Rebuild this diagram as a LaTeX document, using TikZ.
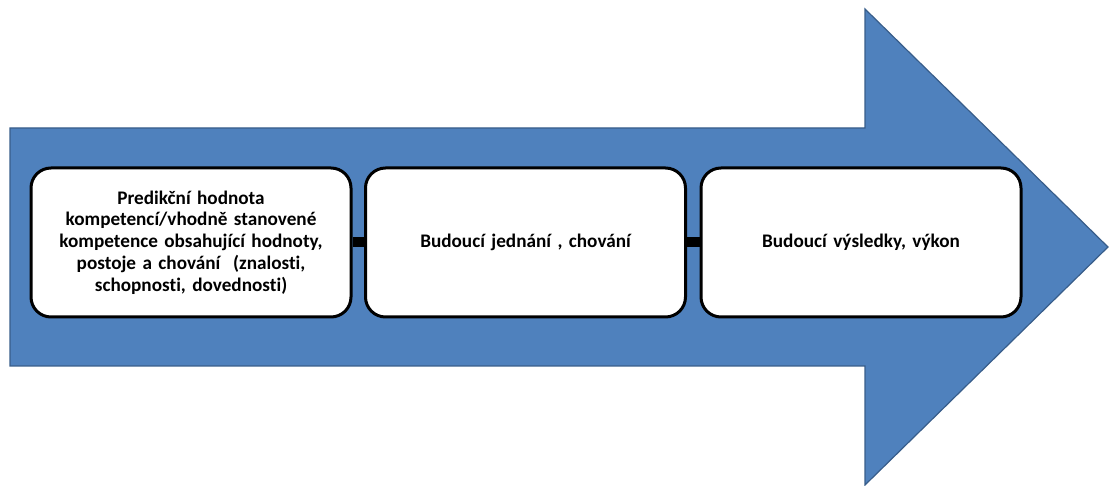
\documentclass[tikz,border=0pt]{standalone}
\usepackage{fontspec}
\setmainfont[Ligatures={NoCommon}]{Carlito}
\begin{document}
\begin{tikzpicture}[x=1pt,y=-1pt,
  arrowfill/.style={fill={rgb,255:red,79;green,129;blue,189}, draw={rgb,255:red,56;green,93;blue,138}, line width=1.2pt, line join=miter},
  stagebox/.style={draw=black, fill=white, line width=3pt, rounded corners=20pt,
    minimum width=320pt, minimum height=149pt, align=center, text width=305pt,
    font=\fontsize{19.2}{21.8}\selectfont\bfseries},
  linkbar/.style={draw=black, line width=10pt}]
\useasboundingbox (0,0) rectangle (1112,486);
% big process arrow
\path[arrowfill] (10,128) -- (865,128) -- (865,9) -- (1108,247) -- (865,485) -- (865,366) -- (10,366) -- cycle;
% stages
\node[stagebox] (s1) at (191,242.5) {Predikční hodnota\\kompetencí/vhodně stanovené\\kompetence obsahující hodnoty,\\postoje a chování\ \ (znalosti,\\schopnosti, dovednosti)};
\node[stagebox] (s2) at (525.5,242.5) {Budoucí jednání , chování};
\node[stagebox] (s3) at (861,242.5) {Budoucí výsledky, výkon};
% links between stages
\draw[linkbar] (s1.east) -- (s2.west);
\draw[linkbar] (s2.east) -- (s3.west);
\end{tikzpicture}
\end{document}
